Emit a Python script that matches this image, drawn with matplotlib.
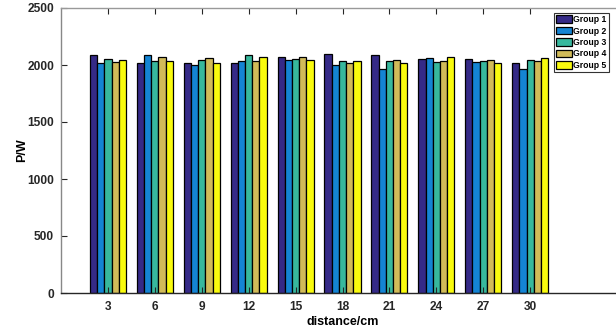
import matplotlib
matplotlib.use("Agg")
import matplotlib.pyplot as plt
import numpy as np

plt.rcParams['font.family'] = ['Liberation Sans', 'DejaVu Sans']
plt.rcParams['font.weight'] = 'bold'

distances = [3, 6, 9, 12, 15, 18, 21, 24, 27, 30]
group_names = ["Group 1", "Group 2", "Group 3", "Group 4", "Group 5"]
group1 = [2088, 2020, 2020, 2015, 2070, 2094, 2088, 2055, 2050, 2018]
group2 = [2015, 2090, 1997, 2038, 2044, 2000, 1962, 2061, 2025, 1965]
group3 = [2050, 2036, 2044, 2085, 2053, 2038, 2032, 2026, 2035, 2048]
group4 = [2024, 2068, 2059, 2035, 2067, 2020, 2044, 2036, 2044, 2035]
group5 = [2041, 2038, 2015, 2073, 2047, 2032, 2015, 2067, 2020, 2065]
colors = ['#352a87', '#1484d4', '#37b89d', '#d1bb59', '#f9fb0e']

series = [group1, group2, group3, group4, group5]

fig = plt.figure(figsize=(6.16, 3.33), dpi=100)
ax = fig.add_axes([61/616, 40/333, 563/616, 285/333])

x = np.arange(1, len(distances) + 1)
n = len(series)
gw = n / (n + 1.5)
bw = gw / n
for i, (vals, c, name) in enumerate(zip(series, colors, group_names)):
    off = -gw/2 + bw*(i + 0.5)
    ax.bar(x + off, vals, width=bw, color=c, edgecolor='black', linewidth=0.9, label=name)

ax.set_xlim(0, 12)
ax.set_ylim(0, 2500)
ax.set_xticks(x)
ax.set_xticklabels([str(d) for d in distances])
ax.set_yticks([0, 500, 1000, 1500, 2000, 2500])
ax.tick_params(axis='both', direction='in', length=4, labelsize=8.6, colors='#262626',
               top=True, right=False, width=0.8)
ax.tick_params(axis='x', pad=6)
ax.tick_params(axis='y', pad=5)
for lab in ax.get_xticklabels() + ax.get_yticklabels():
    lab.set_fontweight('bold')
ax.spines['right'].set_visible(False)
ax.spines['left'].set_color('#888888')
ax.spines['top'].set_color('#999999')
ax.spines['bottom'].set_color('#262626')
for s in ax.spines.values():
    s.set_linewidth(1.0)

ax.set_ylabel('P/W', fontsize=9, fontweight='bold', labelpad=-1)
ax.set_xlabel('distance/cm', fontsize=9, fontweight='bold', labelpad=2)

leg = ax.legend(loc='upper right', bbox_to_anchor=(609/616, 1 - 13/333),
                bbox_transform=fig.transFigure, fontsize=6.2, frameon=True, fancybox=False,
                handlelength=1.8, handleheight=1.0, handletextpad=0.2, labelspacing=0.28,
                borderpad=0.25, borderaxespad=0)
leg.get_frame().set_edgecolor('black')
leg.get_frame().set_linewidth(0.8)
for t in leg.get_texts():
    t.set_fontweight('bold')

fig.savefig('out.png', dpi=100)
